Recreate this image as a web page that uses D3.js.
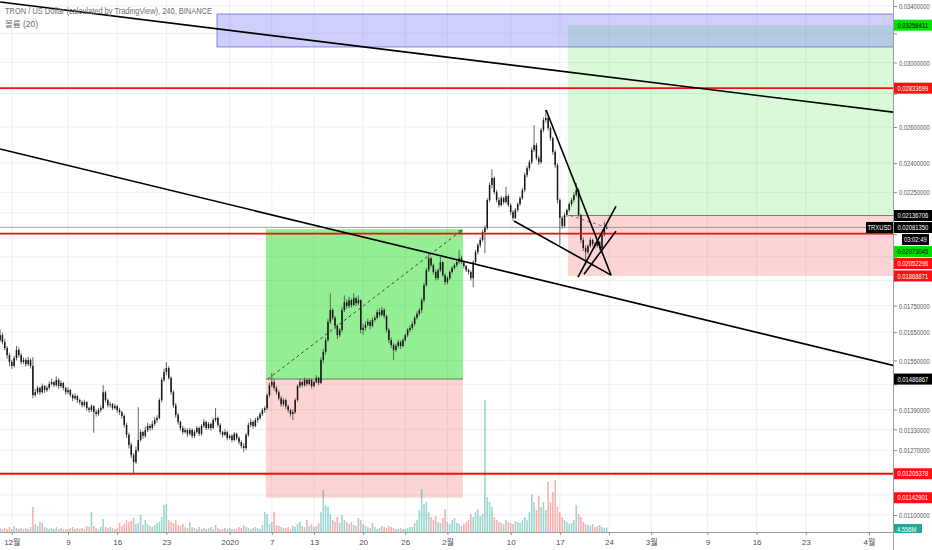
<!DOCTYPE html>
<html><head><meta charset="utf-8">
<script src="https://cdn.jsdelivr.net/npm/d3@7"></script>
<style>body{margin:0;background:#fff;}svg{display:block;}</style>
</head><body>
<svg id="c" width="932" height="550"></svg>
<script>
// ---- data (8h candles, TRX/USD) ----
const startTime = "2019-11-29T00:00:00Z";
const stepHours = 8;
const firstOpen = 0.01603;
const closes = [
.01621,.01639,.01614, .01593,.01568,.01544, .01531,.01558,.01586, .01568,.01544,.01551, .01537,.01551,.01531,
.01435,.01444,.01458, .01444,.01464,.01451, .01458,.01471,.01477, .01467,.01484,.01464, .01474,.01458,.01444,
.01451,.01435,.01425, .01432,.01419,.01413, .01403,.01413,.01394, .01388,.01400,.01382, .01376,.01388,.01394,
.01444,.01419,.01403, .01406,.01394,.01400, .01388,.01382,.01370, .01343,.01314,.01285, .01256,.01237,.01270,
.01299,.01322,.01311, .01328,.01340,.01334, .01346,.01358,.01364, .01419,.01484,.01510, .01524,.01491,.01444,
.01403,.01373,.01352, .01334,.01322,.01328, .01317,.01328,.01311, .01322,.01334,.01317, .01340,.01352,.01334,
.01346,.01334,.01358, .01364,.01343,.01322, .01314,.01322,.01305, .01311,.01299,.01317, .01305,.01293,.01282,
.01276,.01314,.01343, .01352,.01340,.01358, .01364,.01376,.01388, .01394,.01435,.01467, .01477,.01458,.01444,
.01425,.01406,.01419, .01400,.01388,.01376, .01382,.01419,.01464, .01477,.01467,.01484, .01471,.01484,.01464,
.01477,.01491,.01474, .01551,.01579,.01621, .01688,.01733,.01703, .01673,.01639,.01658, .01733,.01763,.01748,
.01771,.01752,.01779, .01759,.01771,.01658, .01666,.01677,.01688, .01673,.01695,.01703, .01725,.01714,.01733,
.01710,.01658,.01621, .01603,.01586,.01600, .01614,.01600,.01621, .01639,.01658,.01666, .01680,.01703,.01718,
.01733,.01771,.01831, .01893,.01944,.01914, .01885,.01860,.01893, .01927,.01872,.01844, .01860,.01885,.01902,
.01914,.01927,.01944, .01927,.01910,.01893, .01885,.01860,.01927, .01970,.02001,.02024, .02060,.02078,.02211,
.02286,.02322,.02251, .02211,.02187,.02221, .02201,.02231,.02187, .02153,.02125,.02163, .02192,.02221,.02261,
.02337,.02373,.02405, .02471,.02498,.02427, .02405,.02583,.02640, .02652,.02594,.02537, .02460,.02389,.02211,
.02125,.02088,.02139, .02163,.02192,.02211, .02236,.02261,.02139, .02024,.01988,.01970, .01997,.02024,.02006,
.01997,.02015,.01988, .02046,.02075,.02081
];
const highs = [
.01632,.01660,.01648, .01625,.01600,.01575, .01552,.01565,.01600, .01595,.01575,.01560, .01558,.01562,.01556,
.01561,.01455,.01465, .01462,.01472,.01468, .01465,.01480,.01488, .01480,.01495,.01490, .01482,.01478,.01462,
.01460,.01455,.01440, .01440,.01436,.01424, .01418,.01420,.01416, .01398,.01406,.01404, .01390,.01395,.01402,
.01467,.01448,.01424, .01414,.01410,.01408, .01404,.01395,.01386, .01375,.01350,.01320, .01292,.01262,.01280,
.01397,.01330,.01326, .01338,.01350,.01345, .01355,.01366,.01372, .01425,.01492,.01522, .01544,.01530,.01495,
.01450,.01410,.01380, .01356,.01340,.01335, .01332,.01335,.01332, .01328,.01340,.01338, .01346,.01360,.01356,
.01352,.01350,.01365, .01394,.01368,.01348, .01326,.01330,.01326, .01315,.01316,.01322, .01320,.01310,.01298,
.01290,.01320,.01350, .01362,.01356,.01364, .01370,.01382,.01395, .01400,.01440,.01475, .01507,.01485,.01465,
.01450,.01432,.01425, .01424,.01405,.01392, .01390,.01425,.01470, .01488,.01482,.01492, .01486,.01490,.01488,
.01482,.01500,.01495, .01560,.01590,.01630, .01700,.01798,.01740, .01710,.01680,.01665, .01745,.01790,.01775,
.01785,.01778,.01798, .01785,.01790,.01775, .01680,.01690,.01700, .01695,.01705,.01712, .01735,.01740,.01745,
.01740,.01715,.01665, .01630,.01610,.01608, .01622,.01620,.01628, .01645,.01665,.01675, .01690,.01710,.01728,
.01740,.01780,.01840, .01902,.01966,.01950, .01920,.01895,.01900, .01949,.01930,.01880, .01868,.01892,.01910,
.01922,.01935,.01979, .01955,.01932,.01915, .01900,.01892,.01935, .01980,.02010,.02035, .02070,.02090,.02220,
.02300,.02368,.02330, .02262,.02225,.02232, .02228,.02277,.02240, .02195,.02162,.02172, .02200,.02230,.02272,
.02350,.02385,.02418, .02485,.02611,.02510, .02440,.02595,.02655, .02700,.02665,.02605, .02545,.02470,.02400,
.02220,.02135,.02150, .02170,.02200,.02222, .02250,.02296,.02270, .02145,.02035,.02000, .02005,.02035,.02030,
.02015,.02025,.02020, .02055,.02107,.02098
];
const lows = [
.01595,.01615,.01605, .01585,.01555,.01530, .01520,.01525,.01550, .01560,.01535,.01538, .01528,.01530,.01522,
.01425,.01430,.01438, .01435,.01440,.01442, .01445,.01452,.01465, .01460,.01462,.01455, .01458,.01450,.01436,
.01438,.01428,.01416, .01420,.01410,.01405, .01396,.01398,.01386, .01380,.01382,.01320, .01368,.01370,.01382,
.01390,.01412,.01396, .01396,.01388,.01390, .01380,.01374,.01362, .01335,.01305,.01275, .01248,.01207,.01232,
.01265,.01294,.01302, .01305,.01322,.01326, .01328,.01340,.01350, .01360,.01412,.01478, .01500,.01485,.01436,
.01395,.01365,.01344, .01326,.01315,.01318, .01308,.01312,.01304, .01305,.01318,.01310, .01312,.01335,.01328,
.01330,.01326,.01330, .01352,.01336,.01315, .01306,.01310,.01298, .01300,.01292,.01295, .01298,.01286,.01275,
.01264,.01270,.01308, .01336,.01332,.01336, .01350,.01358,.01370, .01380,.01388,.01428, .01460,.01450,.01436,
.01418,.01398,.01400, .01392,.01380,.01368, .01358,.01376,.01414, .01458,.01460,.01462, .01464,.01466,.01456,
.01460,.01472,.01466, .01470,.01540,.01570, .01615,.01680,.01695, .01660,.01625,.01632, .01650,.01725,.01738,
.01740,.01742,.01748, .01748,.01752,.01645, .01640,.01655,.01670, .01660,.01668,.01688, .01698,.01706,.01708,
.01700,.01648,.01610, .01592,.01551,.01580, .01594,.01590,.01596, .01615,.01632,.01650, .01658,.01672,.01696,
.01710,.01722,.01762, .01825,.01885,.01905, .01875,.01850,.01852, .01885,.01865,.01832, .01835,.01852,.01878,
.01895,.01906,.01920, .01918,.01900,.01885, .01875,.01850,.01822, .01920,.01960,.01990, .02015,.01966,.02070,
.02200,.02270,.02240, .02200,.02175,.02180, .02190,.02195,.02178, .02140,.02112,.02120, .02155,.02182,.02212,
.02250,.02325,.02360, .02395,.02460,.02415, .02390,.02395,.02570, .02625,.02580,.02522, .02445,.02375,.02195,
.02001,.02075,.02080, .02130,.02155,.02180, .02200,.02225,.02130, .02010,.01975,.01914, .01960,.01990,.01995,
.01985,.01990,.01978, .01985,.02040,.02072
];
// volume in millions
const volumes = [
3,4,3, 4,3,5, 3,6,4, 3,4,3, 4,3,5, 25,8,6, 10,9,5, 4,3,4, 3,5,3, 4,3,3,
3,4,5, 3,4,3, 4,3,6, 5,20,6, 4,3,5, 13,5,4, 5,4,3, 4,9,6, 8,12,10, 11,14,8,
9,17,7, 12,8,6, 5,7,9, 10,15,27, 28,12,10, 9,12,7, 6,8,5, 4,10,5, 4,3,5, 3,4,3,
4,5,3, 7,4,3, 3,4,3, 4,3,3, 3,5,4, 7,5,4, 3,4,5, 4,3,7, 20,18,8, 10,20,7,
6,5,4, 4,5,3, 6,5,8, 10,6,5, 12,6,8, 5,6,9, 20,42,27, 25,18,12, 10,15,9, 17,12,10,
8,10,7, 6,14,12, 8,6,5, 4,9,5, 3,4,6, 5,4,6, 5,4,3, 3,4,3, 3,4,5, 5,9,12,
22,43,28, 30,20,15, 12,16,10, 9,14,23, 10,8,12, 14,9,8, 6,8,10, 12,18,15, 20,23,16, 18,132,35,
30,25,15, 12,10,9, 8,12,10, 9,8,11, 10,9,12, 15,12,20, 38,30,22, 36,25,30, 22,50,30, 40,52,25,
20,15,12, 10,8,9, 12,27,18, 15,10,8, 7,6,8, 5,6,7, 5,4,4.556
];
const lastPrice = 0.0208135;
const lastVolumeText = "4.556M";
const countdownText = "03:02:49";
const symbolText = "TRXUSD";

const priceTicks = [0.034,0.032,0.030,0.028,0.026,0.024,0.0225,0.0215,0.0205,0.0195,0.0185,0.0175,0.0165,0.0155,0.0147,0.0139,0.0133,0.0127,0.0121,0.0115,0.0110];
const timeTicks = ["2019-12-01","2019-12-09","2019-12-16","2019-12-23","2020-01-01","2020-01-07","2020-01-13","2020-01-20","2020-01-26","2020-02-01","2020-02-10","2020-02-17","2020-02-24","2020-03-01","2020-03-09","2020-03-16","2020-03-23","2020-04-01"];
const timeTickLabels = ["12월","9","16","23","2020","7","13","20","26","2월","10","17","24","3월","9","16","23","4월"];

const redLevels = [0.02833699, 0.02052296, 0.01205378];
// blue zone
const zoneTimes = ["2019-12-30T05:00:00Z","2020-05-01T00:00:00Z"];
const zonePrices = [0.0334, 0.03105];
// long positions: [entry, target, stop]
const posTimes = [["2020-01-06T04:00:00Z","2020-02-03T05:00:00Z"],["2020-02-18T04:00:00Z","2020-05-01T00:00:00Z"]];
const posEntry = [0.01486867, 0.02136706];
const posTarget = [0.02073045, 0.03258411];
const posStop = [0.01142901, 0.01868871];
// trend lines
const trendT1 = ["2019-11-29T08:00:00Z","2019-11-29T08:00:00Z","2020-02-15T01:00:00Z","2020-02-10T11:30:00Z","2020-02-19T14:00:00Z","2020-02-20T10:30:00Z"];
const trendP1 = [0.0343, 0.02476, 0.02700, 0.02111, 0.01864, 0.01876];
const trendT2 = ["2020-04-05T10:00:00Z","2020-04-05T10:00:00Z","2020-02-24T07:00:00Z","2020-02-24T07:00:00Z","2020-02-24T23:50:00Z","2020-02-24T23:50:00Z"];
const trendP2 = [0.02682, 0.01527, 0.01872, 0.01872, 0.02182, 0.02064];
// axis price labels (descending) and their roles
const labelPrices = [0.03258411, 0.02833699, 0.02136706, lastPrice, 0.02073045, 0.02052296, 0.01868871, 0.01486867, 0.01205378, 0.01142901];
const labelRoles  = ["target","level","entry","last","target","level","stop","entry","level","stop"];

// ---- drawing ----
const FONT = "'Liberation Sans','Noto Sans CJK KR',sans-serif";
const PR = 893, PB = 532, SX = 0.78;
const svg = d3.select("#c");
const x = d3.scaleUtc().domain([new Date("2019-12-01T00:00:00Z"), new Date("2020-04-01T00:00:00Z")]).range([11.8, 869]);
const y = d3.scaleLog().domain([0.034, 0.011]).range([6, 515]);
const yv = d3.scaleLinear().domain([0, 100]).range([PB, PB - 100]);
const fmt = d3.format(".8f");

const t0 = new Date(startTime).getTime();
const candles = closes.map((c, i) => {
  const o = i ? closes[i - 1] : firstOpen;
  return {t: new Date(t0 + i * stepHours * 3600e3), o, c,
    h: Math.max(highs[i], o, c), l: Math.min(lows[i], o, c), v: volumes[i]};
});

const defs = svg.append("defs");
defs.append("clipPath").attr("id","plot").append("rect").attr("x",0).attr("y",0).attr("width",PR).attr("height",PB);
defs.append("marker").attr("id","arr").attr("viewBox","0 0 10 10").attr("refX",9).attr("refY",5)
  .attr("markerWidth",5).attr("markerHeight",5).attr("orient","auto")
  .append("path").attr("d","M0,1 L9,5 L0,9").attr("fill","none").attr("stroke","#333").attr("stroke-width",1.5);

// grid
const grid = svg.append("g");
grid.selectAll("line.gh").data(priceTicks).join("line").attr("class","gh")
  .attr("x1",0).attr("x2",PR).attr("y1",d=>y(d)).attr("y2",d=>y(d)).attr("stroke","#eef0f3");
grid.selectAll("line.gv").data(timeTicks).join("line").attr("class","gv")
  .attr("x1",d=>x(new Date(d))).attr("x2",d=>x(new Date(d))).attr("y1",0).attr("y2",PB).attr("stroke","#eef0f3");

const plot = svg.append("g").attr("clip-path","url(#plot)");

// position boxes
posEntry.forEach((e, i) => {
  const x1 = x(new Date(posTimes[i][0])), x2 = x(new Date(posTimes[i][1]));
  const gA = i === 0 ? 0.42 : 0.15;
  plot.append("rect").attr("x",x1).attr("width",x2-x1).attr("y",y(posTarget[i])).attr("height",y(e)-y(posTarget[i]))
    .attr("fill",`rgba(0,215,0,${gA})`);
  plot.append("rect").attr("x",x1).attr("width",x2-x1).attr("y",y(e)).attr("height",y(posStop[i])-y(e))
    .attr("fill","rgba(240,60,60,0.22)");
  plot.append("line").attr("x1",x1).attr("x2",x2).attr("y1",y(e)).attr("y2",y(e)).attr("stroke","rgba(60,90,60,0.7)").attr("stroke-width",1);
});
// blue zone
{
  const x1 = x(new Date(zoneTimes[0])), x2 = x(new Date(zoneTimes[1]));
  plot.append("rect").attr("x",x1).attr("width",x2-x1).attr("y",y(zonePrices[0])).attr("height",y(zonePrices[1])-y(zonePrices[0]))
    .attr("fill","rgba(105,105,245,0.32)").attr("stroke","rgba(120,120,225,0.9)").attr("stroke-width",1);
}

// header
svg.append("text").attr("x",5).attr("y",14).attr("font-family",FONT).attr("font-size",8.5).attr("fill","#6a6d78")
  .attr("textLength",207).attr("lengthAdjust","spacingAndGlyphs").text("TRON / US Dollar (calculated by TradingView), 240, BINANCE");
svg.append("text").attr("x",5).attr("y",27).attr("font-family",FONT).attr("font-size",8.5).attr("fill","#6a6d78").text("볼륨 (20)");

// volume
plot.append("g").selectAll("rect").data(candles).join("rect")
  .attr("x",d=>x(d.t)-0.8).attr("width",1.6)
  .attr("y",d=>yv(d.v)).attr("height",d=>PB-yv(d.v))
  .attr("fill",d=>d.c>=d.o ? "rgba(38,166,154,0.45)" : "rgba(239,83,80,0.45)");

// candles
const cg = plot.append("g");
cg.selectAll("line").data(candles).join("line")
  .attr("x1",d=>x(d.t)).attr("x2",d=>x(d.t)).attr("y1",d=>y(d.h)).attr("y2",d=>y(d.l))
  .attr("stroke","#555").attr("stroke-width",0.9);
cg.selectAll("rect").data(candles).join("rect")
  .attr("x",d=>x(d.t)-0.75).attr("width",1.5)
  .attr("y",d=>y(Math.max(d.o,d.c))).attr("height",d=>Math.max(0.8, Math.abs(y(d.o)-y(d.c))))
  .attr("fill","#161616");

// current price line
plot.append("line").attr("x1",0).attr("x2",PR).attr("y1",y(lastPrice)).attr("y2",y(lastPrice))
  .attr("stroke","rgba(60,60,60,0.6)").attr("stroke-width",0.8);

// red levels
plot.selectAll("line.red").data(redLevels).join("line").attr("class","red")
  .attr("x1",0).attr("x2",PR).attr("y1",d=>y(d)).attr("y2",d=>y(d)).attr("stroke","#f01010").attr("stroke-width",1.8);

// position dashed paths
{
  const lc = candles[candles.length-1];
  plot.append("line").attr("x1",x(new Date(posTimes[0][0]))+2).attr("y1",y(posEntry[0]))
    .attr("x2",x(new Date(posTimes[0][1]))-1).attr("y2",y(posTarget[0])+1)
    .attr("stroke","#333").attr("stroke-width",0.9).attr("stroke-dasharray","3,3").attr("marker-end","url(#arr)");
  plot.append("line").attr("x1",x(new Date(posTimes[1][0]))+2).attr("y1",y(posEntry[1]))
    .attr("x2",x(lc.t)).attr("y2",y(lc.c))
    .attr("stroke","#555").attr("stroke-width",0.8).attr("stroke-dasharray","3,3");
}

// trend lines
plot.selectAll("line.tr").data(trendT1).join("line").attr("class","tr")
  .attr("x1",(d,i)=>x(new Date(trendT1[i]))).attr("y1",(d,i)=>y(trendP1[i]))
  .attr("x2",(d,i)=>x(new Date(trendT2[i]))).attr("y2",(d,i)=>y(trendP2[i]))
  .attr("stroke","#000").attr("stroke-width",1.6);

// bottom axis line
svg.append("line").attr("x1",0).attr("x2",PR).attr("y1",PB+0.5).attr("y2",PB+0.5).attr("stroke","#9a9da6");

// axis label positions with stacking (computed first so colliding ticks hide)
const LH = 12;
const placed = [];
{
  let prev = -1e9;
  labelPrices.forEach((p, i) => {
    const yc = Math.max(y(p), prev + LH);
    placed.push({yc, p, role: labelRoles[i]});
    prev = yc;
    if (labelRoles[i] === "last") { placed.push({yc: yc + LH, role: "countdown"}); prev = yc + LH; }
  });
}
const volLabelY = yv(volumes[volumes.length-1]) + 2;

// price axis
const ya = svg.append("g").attr("transform",`translate(${PR},0)`)
  .call(d3.axisRight(y).tickValues(priceTicks).tickFormat(fmt).tickSize(4));
ya.select(".domain").remove();
ya.selectAll("line").attr("stroke","#8a8d96");
ya.selectAll("text").attr("font-family",FONT).attr("font-size",7.5).attr("fill","#555")
  .attr("x",0).attr("dy",null).attr("y",2.7)
  .attr("transform",`translate(6,0) scale(${SX},1)`)
  .attr("display",d => placed.some(l => Math.abs(l.yc - y(d)) < 9) ? "none" : null);

// time axis
const xa = svg.append("g").attr("transform",`translate(0,${PB})`)
  .call(d3.axisBottom(x).tickValues(timeTicks.map(d=>new Date(d))).tickFormat((d,i)=>timeTickLabels[i]).tickSize(3).tickPadding(4));
xa.select(".domain").remove();
xa.selectAll("line").attr("stroke","#8a8d96");
xa.selectAll("text").attr("font-family",FONT).attr("font-size",8).attr("fill","#4a4d56");

// label boxes
const roleBg = {target:"#00e000", level:"#ff1010", entry:"#000", last:"#000", stop:"#ff1010", countdown:"#000"};
const roleFg = {target:"#000", level:"#fff", entry:"#fff", last:"#fff", stop:"#fff", countdown:"#fff"};
const lg = svg.append("g");
function box(yc, txt, bg, fg, bx, bw, tx) {
  lg.append("rect").attr("x",bx).attr("y",yc-5.5).attr("width",bw).attr("height",11).attr("fill",bg);
  lg.append("text").attr("transform",`translate(${tx},${yc+2.7}) scale(${SX},1)`)
    .attr("font-family",FONT).attr("font-size",7.5).attr("fill",fg).text(txt);
}
placed.forEach(l => {
  if (l.role === "countdown") { box(l.yc, countdownText, "#000", "#fff", 902, 27, 904); return; }
  box(l.yc, fmt(l.p), roleBg[l.role], roleFg[l.role], PR, 39, PR+4.5);
  if (l.role === "last") box(l.yc, symbolText, "#000", "#fff", 866, 27, 867.5);
});
box(volLabelY, lastVolumeText, "#26a69a", "#fff", PR, 29, PR+4);
svg.append("rect").attr("x",PR).attr("y",PB+1).attr("width",932-PR).attr("height",550-PB).attr("fill","#fff");
// right axis separator
svg.append("line").attr("x1",PR+0.5).attr("x2",PR+0.5).attr("y1",0).attr("y2",550).attr("stroke","#9a9da6");
</script>
</body></html>
